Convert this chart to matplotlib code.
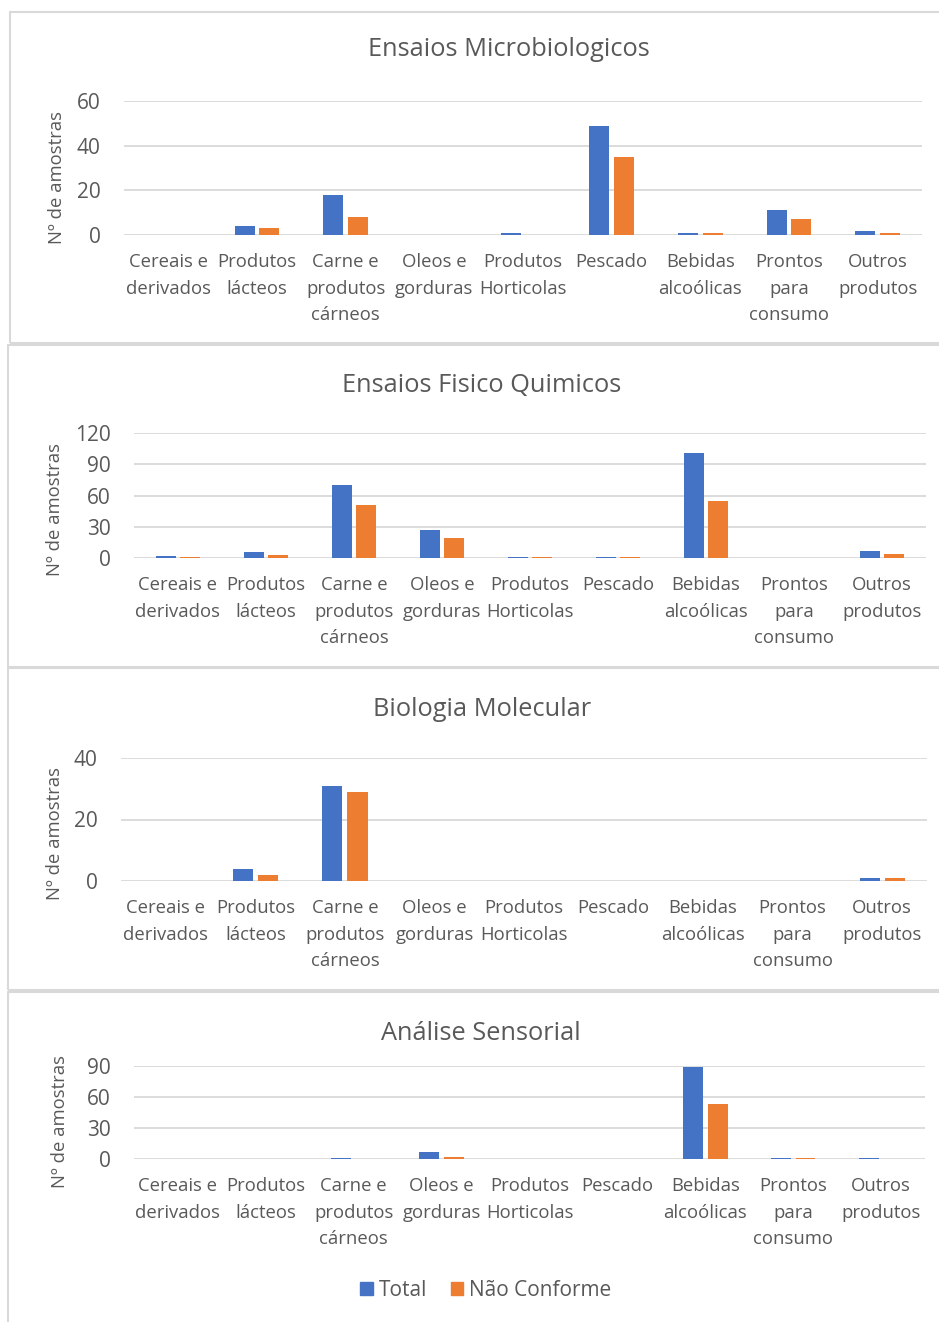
"""
Quatro paineis de barras (Total vs Nao Conforme) por categoria de produto.
Gera out.png (~939x1322).
"""
import matplotlib
matplotlib.use('Agg')
import matplotlib.pyplot as plt
import numpy as np
from matplotlib.patches import Patch, Rectangle

W, H = 939, 1322

CATEGORIES = ['Cereais e\nderivados', 'Produtos\nlácteos', 'Carne e\nprodutos\ncárneos',
              'Oleos e\ngorduras', 'Produtos\nHorticolas', 'Pescado',
              'Bebidas\nalcoólicas', 'Prontos\npara\nconsumo', 'Outros\nprodutos']

TITLES = ['Ensaios Microbiologicos', 'Ensaios Fisico Quimicos',
          'Biologia Molecular', 'Análise Sensorial']

micro_total = [0, 4, 18, 0, 1, 49, 1, 11, 2]
micro_nc = [0, 3, 8, 0, 0, 35, 1, 7, 1]
fq_total = [2, 6, 70, 27, 1, 1, 101, 0, 7]
fq_nc = [1, 3, 51, 19, 1, 1, 55, 0, 4]
bio_total = [0, 4, 31, 0, 0, 0, 0, 0, 1]
bio_nc = [0, 2, 29, 0, 0, 0, 0, 0, 1]
sens_total = [0, 0, 1, 7, 0, 0, 89, 1, 1]
sens_nc = [0, 0, 0, 2, 0, 0, 53, 1, 0]

YTICKS = [[0, 20, 40, 60], [0, 30, 60, 90, 120], [0, 20, 40], [0, 30, 60, 90]]

BLUE = '#4472C4'
ORANGE = '#ED7D31'
GREY = '#595959'
GRID = '#D9D9D9'

# layout em pixels: (esq, topo, dir, base) da area de plotagem, caixa, titulo, ylabel
PANELS = [
    dict(plot=(124, 101, 922, 235), box=(10, 12, 945, 343), title=(509, 50), ylab=(57, 177)),
    dict(plot=(134, 433, 926, 558), box=(8, 345, 945, 667), title=(482, 385), ylab=(55, 510)),
    dict(plot=(121, 758, 927, 881), box=(8, 668, 945, 990), title=(482, 709), ylab=(55, 833)),
    dict(plot=(134, 1066, 925, 1159), box=(8, 992, 945, 1330), title=(481, 1033), ylab=(60, 1122)),
]


def rect(l, t, r, b):
    return [l / W, 1 - b / H, (r - l) / W, (b - t) / H]


plt.rcParams['font.family'] = ['Open Sans', 'DejaVu Sans']
fig = plt.figure(figsize=(W / 100, H / 100), dpi=100)

series = [(micro_total, micro_nc), (fq_total, fq_nc), (bio_total, bio_nc), (sens_total, sens_nc)]
x = np.arange(len(CATEGORIES))
bw = 0.225
gap = 0.056

for i, (p, (tot, nc)) in enumerate(zip(PANELS, series)):
    bl, bt, br, bb = p['box']
    fig.patches.append(Rectangle((bl / W, 1 - bb / H), (br - bl) / W, (bb - bt) / H,
                                 transform=fig.transFigure, fill=False,
                                 edgecolor=GRID, linewidth=1.5))
    ax = fig.add_axes(rect(*p['plot']))
    ax.bar(x - (bw + gap) / 2, tot, width=bw, color=BLUE, zorder=3)
    ax.bar(x + (bw + gap) / 2, nc, width=bw, color=ORANGE, zorder=3)
    ax.set_xlim(-0.5, len(CATEGORIES) - 0.5)
    yt = YTICKS[i]
    ax.set_ylim(0, yt[-1])
    ax.set_yticks(yt)
    ax.set_xticks(x)
    ax.set_xticklabels(CATEGORIES, linespacing=1.62)
    for s in ax.spines.values():
        s.set_visible(False)
    ax.grid(True, axis='y', color=GRID, linewidth=1.3, zorder=0)
    ax.set_axisbelow(True)
    ax.tick_params(axis='both', length=0, colors=GREY)
    ax.tick_params(axis='x', pad=13, labelsize=13.3)
    ax.tick_params(axis='y', pad=17, labelsize=15)
    tx, ty = p['title']
    fig.text(tx / W, 1 - ty / H, TITLES[i], ha='center', va='center',
             fontsize=18.3, color=GREY)
    lx, ly = p['ylab']
    fig.text(lx / W, 1 - ly / H, 'Nº de amostras', rotation=90, ha='center',
             va='center', fontsize=13.3, color=GREY)

handles = [Patch(color=BLUE, label='Total'), Patch(color=ORANGE, label='Não Conforme')]
leg = fig.legend(handles=handles, loc='center', bbox_to_anchor=(486 / W, 1 - 1290 / H),
                 ncol=2, frameon=False, fontsize=15, handlelength=0.6, handleheight=0.6,
                 handletextpad=0.3, columnspacing=1.1, labelcolor=GREY)

fig.savefig('out.png', dpi=100)
